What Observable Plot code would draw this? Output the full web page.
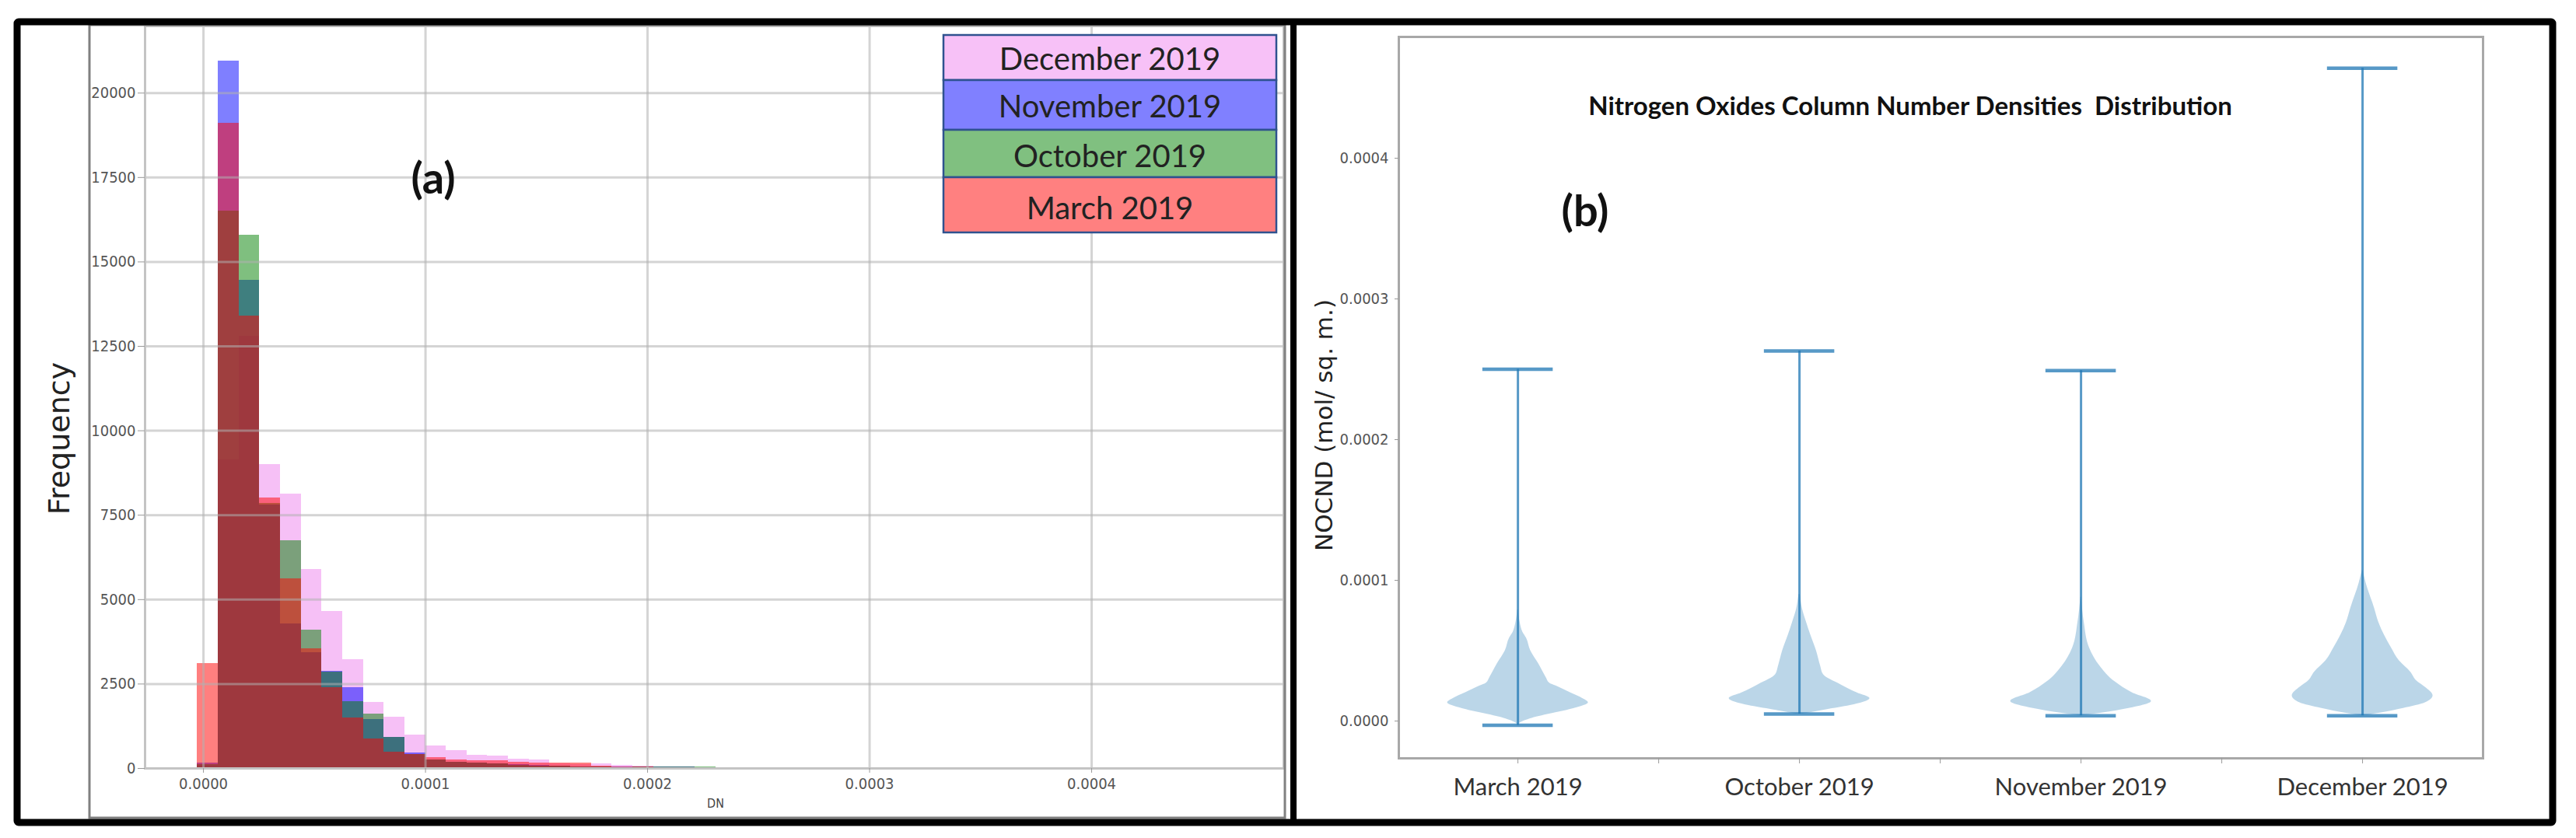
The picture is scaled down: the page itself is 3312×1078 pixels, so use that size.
<!DOCTYPE html>
<html>
<head>
<meta charset="utf-8">
<script src="https://cdn.jsdelivr.net/npm/d3@7"></script>
<script src="https://cdn.jsdelivr.net/npm/@observablehq/plot@0.6"></script>
<style>
  html, body { margin: 0; padding: 0; background: #fff; }
  #page { position: relative; width: 3312px; height: 1078px; overflow: hidden; background: #fff; }
  .layer { position: absolute; top: 0; }
  #overlay { position: absolute; left: 0; top: 0; pointer-events: none; }
</style>
</head>
<body>
<div id="page">
  <div id="hist" class="layer" style="left:0px"></div>
  <div id="violin" class="layer" style="left:1663px"></div>
  <svg id="overlay" width="3312" height="1078"></svg>
</div>
<script>
// ---------------- DATA ----------------
// (a) histogram: shared 50 bins between the overall min and max
const seriesNames = ["December 2019", "November 2019", "October 2019", "March 2019"];
const seriesColors = ["violet", "blue", "green", "red"];
const binLo = -0.0000027;
const binHi = 0.000464;
const binCount = 50;

const decemberCounts = [100, 9150, 12800, 9000, 8120, 5900, 4640, 3220, 1950, 1510,
  1000, 670, 530, 400, 370, 280, 250, 130, 110, 130,
  90, 60, 45, 35, 25, 20, 25, 25, 15, 20,
  20, 8, 6, 20, 4, 3, 3, 2, 3, 2,
  4, 15, 2, 1, 2, 1, 1, 1, 1, 1];
const novemberCounts = [150, 20950, 14450, 7800, 4280, 3420, 2880, 2400, 1450, 920,
  460, 250, 190, 150, 130, 110, 90, 60, 50, 45,
  40, 50, 45, 40, 30, 20, 5, 0, 0, 0,
  0, 0, 0, 0, 0, 0, 0, 0, 0, 0,
  0, 0, 0, 0, 0, 0, 0, 0, 0, 0];
const octoberCounts = [120, 16500, 15800, 7850, 6740, 4100, 2860, 1970, 1600, 910,
  420, 250, 190, 160, 130, 100, 80, 60, 40, 40,
  30, 40, 40, 45, 40, 30, 10, 5, 2, 0,
  0, 0, 0, 0, 0, 0, 0, 0, 0, 0,
  0, 0, 0, 0, 0, 0, 0, 0, 0, 0];
const marchCounts = [3100, 19100, 13400, 8000, 5620, 3550, 2400, 1500, 875, 490,
  410, 320, 250, 230, 230, 185, 160, 150, 150, 60,
  50, 40, 30, 20, 10, 5, 3, 1, 0, 0,
  0, 0, 0, 0, 0, 0, 0, 0, 0, 0,
  0, 0, 0, 0, 0, 0, 0, 0, 0, 0];
const histXTicks = [0, 0.0001, 0.0002, 0.0003, 0.0004];
const histYTicks = [0, 2500, 5000, 7500, 10000, 12500, 15000, 17500, 20000];

// (b) violin plot
const months = ["March 2019", "October 2019", "November 2019", "December 2019"];
const violinMin = [-0.0000030, 0.0000050, 0.0000038, 0.0000038];
const violinMax = [0.000250, 0.000263, 0.000249, 0.000464];
// density profiles (value, relative half-width)
const marchProfileValues = [-0.0000030, -0.0000017, 0.0000020, 0.0000055, 0.0000090, 0.0000130, 0.0000160, 0.0000200, 0.0000250, 0.0000270, 0.0000310, 0.0000410, 0.0000500, 0.0000590, 0.0000630, 0.0000700, 0.0000790];
const marchProfileWidths = [0, 0.02, 0.20, 0.50, 0.80, 1.00, 0.92, 0.75, 0.54, 0.45, 0.40, 0.29, 0.18, 0.12, 0.07, 0.03, 0.005];
const octoberProfileValues = [0.0000050, 0.0000080, 0.0000110, 0.0000160, 0.0000200, 0.0000260, 0.0000330, 0.0000390, 0.0000500, 0.0000610, 0.0000700, 0.0000800, 0.0000900];
const octoberProfileWidths = [0.05, 0.38, 0.72, 1.00, 0.82, 0.58, 0.34, 0.30, 0.24, 0.16, 0.10, 0.04, 0.01];
const novemberProfileValues = [0.0000038, 0.0000055, 0.0000090, 0.0000140, 0.0000200, 0.0000280, 0.0000390, 0.0000520, 0.0000700, 0.0000880];
const novemberProfileWidths = [0.02, 0.27, 0.68, 1.00, 0.73, 0.48, 0.27, 0.12, 0.045, 0.005];
const decemberProfileValues = [0.0000038, 0.0000055, 0.0000090, 0.0000130, 0.0000180, 0.0000240, 0.0000280, 0.0000350, 0.0000430, 0.0000520, 0.0000610, 0.0000700, 0.0000800, 0.0000980, 0.0001070];
const decemberProfileWidths = [0.02, 0.23, 0.58, 0.89, 1.00, 0.89, 0.78, 0.68, 0.52, 0.41, 0.31, 0.23, 0.17, 0.05, 0.005];
const violinXTicks = [1, 1.5, 2, 2.5, 3, 3.5, 4];
const violinYTicks = [0, 0.0001, 0.0002, 0.0003, 0.0004];

// ---------------- BUILD ----------------
const tickFont = "'DejaVu Sans Condensed', 'Liberation Sans Narrow', 'DejaVu Sans', sans-serif";
const allCounts = [decemberCounts, novemberCounts, octoberCounts, marchCounts];
const binWidth = (binHi - binLo) / binCount;
const histRows = [];
seriesNames.forEach((name, s) => {
  allCounts[s].forEach((c, i) => {
    histRows.push({series: name, x1: binLo + i * binWidth, x2: binLo + (i + 1) * binWidth, count: c});
  });
});

const histPlot = Plot.plot({
  width: 1663, height: 1078,
  marginLeft: 186, marginRight: 13, marginTop: 33, marginBottom: 90,
  style: {background: "transparent", fontFamily: tickFont, fontSize: "20px", color: "#555"},
  x: {domain: [-0.0000263, 0.0004865]},
  y: {domain: [0, 21985]},
  color: {domain: seriesNames, range: seriesColors},
  marks: [
    // overlaid (not stacked) histograms, drawn in order so March sits on top
    Plot.rectY(histRows, {x1: "x1", x2: "x2", y1: 0, y2: "count", fill: "series", fillOpacity: 0.5, shapeRendering: "crispEdges"}),
    Plot.gridX(histXTicks, {stroke: "#b0b0b0", strokeOpacity: 0.55, strokeWidth: 3}),
    Plot.gridY(histYTicks, {stroke: "#b0b0b0", strokeOpacity: 0.55, strokeWidth: 3}),
    Plot.frame({stroke: "#c4c4c4", strokeWidth: 3}),
    Plot.axisX(histXTicks, {tickFormat: d3.format(".4f"), tickSize: 6, tickPadding: 6, stroke: "#999", fill: "#555", label: null}),
    Plot.axisY(histYTicks, {tickFormat: d3.format("d"), tickSize: 9, tickPadding: 3, stroke: "#999", fill: "#555", label: null})
  ]
});
document.getElementById("hist").appendChild(histPlot);

const profiles = [
  [marchProfileValues, marchProfileWidths],
  [octoberProfileValues, octoberProfileWidths],
  [novemberProfileValues, novemberProfileWidths],
  [decemberProfileValues, decemberProfileWidths]
];
const violinRows = [];
profiles.forEach(([vals, wids], m) => {
  vals.forEach((v, i) => violinRows.push({month: months[m], pos: m + 1, value: v, width: wids[i]}));
});
const violinStats = months.map((m, i) => ({month: m, pos: i + 1, min: violinMin[i], max: violinMax[i]}));

const lineStyle = {stroke: "#1f77b4", strokeOpacity: 0.75};
const violinPlot = Plot.plot({
  width: 1649, height: 1078,
  marginLeft: 135, marginRight: 120, marginTop: 47, marginBottom: 103,
  style: {background: "transparent", fontFamily: tickFont, fontSize: "20px", color: "#555"},
  x: {domain: [0.577, 4.428]},
  y: {domain: [-0.0000265, 0.0004862]},
  marks: [
    Plot.areaX(violinRows, {y: "value", x1: d => d.pos - 0.25 * d.width, x2: d => d.pos + 0.25 * d.width, z: "month", fill: "#1f77b4", fillOpacity: 0.3, curve: "monotone-y"}),
    Plot.ruleX(violinStats, {x: "pos", y1: "min", y2: "max", ...lineStyle, strokeWidth: 3}),
    Plot.ruleY(violinStats, {y: "max", x1: d => d.pos - 0.125, x2: d => d.pos + 0.125, ...lineStyle, strokeWidth: 4.5}),
    Plot.ruleY(violinStats, {y: "min", x1: d => d.pos - 0.125, x2: d => d.pos + 0.125, ...lineStyle, strokeWidth: 4.5}),
    Plot.frame({stroke: "#a8a8a8", strokeWidth: 3}),
    Plot.axisX(violinXTicks, {tickFormat: d => Number.isInteger(d) ? months[d - 1] : "", tickSize: 7, tickPadding: 18, stroke: "#999", fill: "#333", fontFamily: "Lato, sans-serif", fontSize: 31, label: null}),
    Plot.axisY(violinYTicks, {tickFormat: d3.format(".4f"), tickSize: 5, tickPadding: 8, stroke: "#999", fill: "#555", label: null})
  ]
});
document.getElementById("violin").appendChild(violinPlot);

// ---------------- OVERLAY (frames, labels, legend) ----------------
const ov = d3.select("#overlay");
// inner screenshot frame of panel (a)
ov.append("rect").attr("x", 115).attr("y", 32).attr("width", 1537).attr("height", 1020)
  .attr("fill", "none").attr("stroke", "#808080").attr("stroke-width", 3);
// outer black frame and divider
ov.append("rect").attr("x", 22).attr("y", 28).attr("width", 3260).attr("height", 1030)
  .attr("fill", "none").attr("stroke", "#000").attr("stroke-width", 9).attr("rx", 2);
ov.append("line").attr("x1", 1663).attr("x2", 1663).attr("y1", 28).attr("y2", 1058)
  .attr("stroke", "#000").attr("stroke-width", 8);

// legend of (a)
const legendEdges = [45, 103, 167, 228, 299];
const legendBaselines = [90, 151, 215, 282];
seriesNames.forEach((name, i) => {
  ov.append("rect").attr("x", 1213).attr("y", legendEdges[i]).attr("width", 428)
    .attr("height", legendEdges[i + 1] - legendEdges[i])
    .attr("fill", d3.interpolateRgb("white", seriesColors[i])(0.5))
    .attr("stroke", "#2f528f").attr("stroke-width", 2.5);
  ov.append("text").attr("x", 1427).attr("y", legendBaselines[i]).attr("text-anchor", "middle")
    .attr("font-family", "Lato, sans-serif").attr("font-size", 40).attr("fill", "#222").text(name);
});

function label(txt, x, y, size, opts = {}) {
  const t = ov.append("text").attr("text-anchor", "middle")
    .attr("font-family", opts.family || "Lato, sans-serif")
    .attr("font-size", size).attr("font-weight", opts.weight || "normal")
    .attr("fill", opts.fill || "#111").style("white-space", "pre").text(txt);
  if (opts.rotate) {
    t.attr("transform", `translate(${x},${y}) rotate(-90)`).attr("dy", "0.35em");
  } else {
    t.attr("x", x).attr("y", y);
  }
  return t;
}
label("(a)", 557, 249, 56, {weight: "bold"});
label("(b)", 2038, 291, 56, {weight: "bold"});
label("Nitrogen Oxides Column Number Densities  Distribution", 2456, 148, 33, {weight: "bold"});
label("Frequency", 76, 564, 38, {family: "'DejaVu Sans', sans-serif", fill: "#222", rotate: true});
label("NOCND (mol/ sq. m.)", 1702, 547, 31, {family: "'DejaVu Sans', sans-serif", fill: "#222", rotate: true});
label("DN", 920, 1039, 16, {family: tickFont, fill: "#444"});
</script>
</body>
</html>
